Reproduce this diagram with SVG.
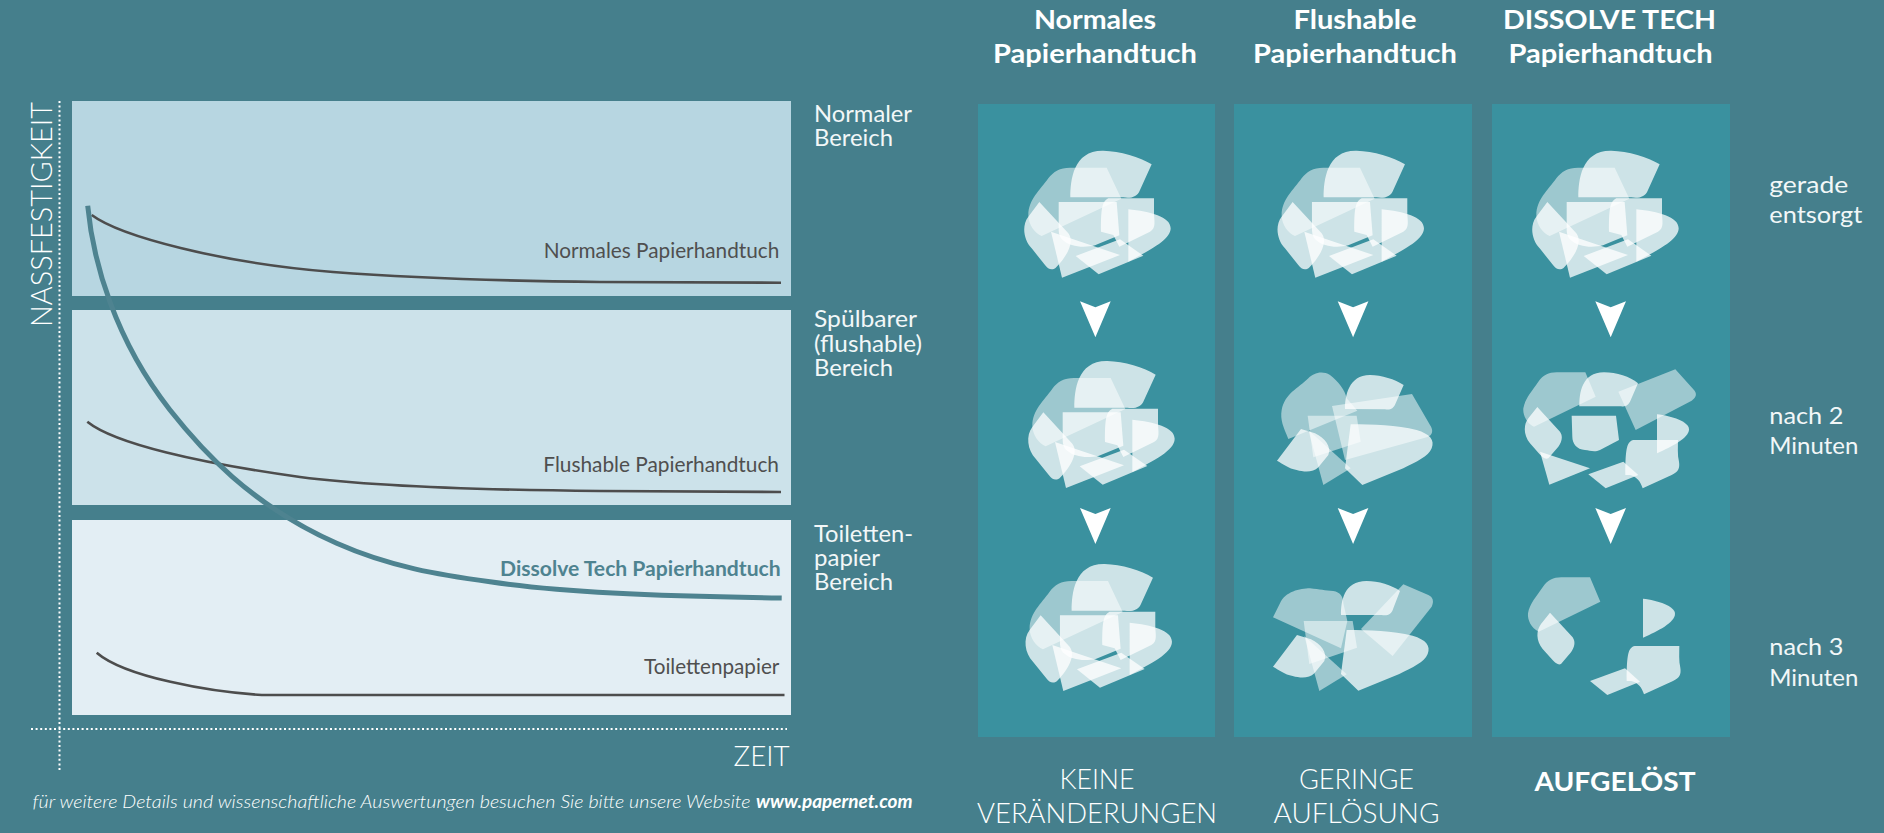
<svg xmlns="http://www.w3.org/2000/svg" xmlns:xlink="http://www.w3.org/1999/xlink" width="1884" height="833" viewBox="0 0 1884 833">
<style>
text{font-family:"Lato","Open Sans","Liberation Sans",sans-serif;fill:#fff}
.h{font-size:26px;font-weight:700;text-anchor:middle}
.r{font-size:23px;fill:#f2f7f8}
.b{font-size:27px;font-weight:300;text-anchor:middle}
.i{font-size:21px;fill:#4f4f4f}
.d{fill:#fff;fill-opacity:.5}
.l{fill:#fff;fill-opacity:.75}
.ax{fill:none;stroke:#fff;stroke-width:2;stroke-dasharray:2 2.6}
.k{fill:none;stroke:#4d4d4d;stroke-width:2.6}
.arr{fill:#fff}
</style>
<defs>
<g id="clusterA" transform="scale(.33333)">
<path class="d" d="M440,203L484,296L245,408C225,400 205,375 205,345C205,300 240,270 265,235C280,215 300,203 330,203Z"/>
<path class="l" d="M575,193L540,270C532,292 510,296 490,292L331,292C331,240 340,150 430,152C480,154 540,170 575,193Z"/>
<path class="l" d="M296,306L470,306L478,406L405,436C370,445 330,440 308,420C298,410 296,400 296,385Z"/>
<path class="l" d="M582,295L445,295C425,305 423,330 423,395L460,405L478,440L570,395C590,385 582,360 582,340Z"/>
<path class="l" d="M505,328C570,335 632,350 632,385C632,420 570,450 505,485Z"/>
<path class="l" d="M238,306L325,400C345,425 320,470 290,500C280,512 265,510 255,495L215,445C190,420 185,375 205,350Z"/>
<path class="l" d="M273,395L480,465L306,533Z"/>
<path class="l" d="M347,468L480,418L550,467L416,523Z"/>
</g>
<path id="arrow" d="M0,0L15.4,6L30.7,0L15.4,36Z"/>
</defs>
<rect width="1884" height="833" fill="#457f8c"/>
<g id="chart-bands">
<rect x="72" y="101" width="719" height="195" fill="#b7d6e1"/>
<rect x="72" y="310" width="719" height="195" fill="#cce2ea"/>
<rect x="72" y="520" width="719" height="195" fill="#e3eef4"/>
</g>
<g id="axes">
<path class="ax" d="M59.5,101V770"/>
<path class="ax" d="M31,729H787"/>
<text transform="translate(51.7,327) rotate(-90)" font-size="29" font-weight="300" fill="#fff" textLength="225" lengthAdjust="spacingAndGlyphs">NASSFESTIGKEIT</text>
<text x="733.6" y="766" font-size="28" font-weight="300" textLength="56" lengthAdjust="spacingAndGlyphs">ZEIT</text>
</g>
<g id="curves">
<path class="k" d="M91.7,215C120,236 220,263 333,272C400,277 500,281 600,282L781,282.7"/>
<path class="k" d="M87.3,421.7C115,444 200,463 300,477C370,486 480,490 600,491L781,492"/>
<path class="k" d="M96.7,652.7C125,677 210,692 261.7,695L784.5,695"/>
<path fill="none" stroke="#4e8390" stroke-width="5" d="M87.7,205.7C93,262 115,340 170,410C200,448 250,505 336.7,543.3C390,567 440,575 490,581.7C560,592 650,596 781.7,598"/>
</g>
<g id="curve-labels">
<text class="i" x="543.7" y="258" textLength="235.6" lengthAdjust="spacingAndGlyphs">Normales Papierhandtuch</text>
<text class="i" x="543.3" y="471.7" textLength="235.7" lengthAdjust="spacingAndGlyphs">Flushable Papierhandtuch</text>
<text class="i" x="500" y="575.7" style="fill:#4e8390;font-weight:700" textLength="280.7" lengthAdjust="spacingAndGlyphs">Dissolve Tech Papierhandtuch</text>
<text class="i" x="644" y="674" textLength="135.3" lengthAdjust="spacingAndGlyphs">Toilettenpapier</text>
</g>
<g id="band-labels">
<text class="r" x="814" y="122" textLength="98" lengthAdjust="spacingAndGlyphs">Normaler</text>
<text class="r" x="814" y="145.7" textLength="79" lengthAdjust="spacingAndGlyphs">Bereich</text>
<text class="r" x="814" y="326.7" textLength="103" lengthAdjust="spacingAndGlyphs">Spülbarer</text>
<text class="r" x="814" y="351.7" textLength="108" lengthAdjust="spacingAndGlyphs">(flushable)</text>
<text class="r" x="814" y="375.7" textLength="79" lengthAdjust="spacingAndGlyphs">Bereich</text>
<text class="r" x="814" y="541.7" textLength="99" lengthAdjust="spacingAndGlyphs">Toiletten-</text>
<text class="r" x="814" y="565.7" textLength="66" lengthAdjust="spacingAndGlyphs">papier</text>
<text class="r" x="814" y="590" textLength="79" lengthAdjust="spacingAndGlyphs">Bereich</text>
</g>
<g id="footer">
<text x="32.5" y="808" font-size="18" font-style="italic" font-weight="300" textLength="718" lengthAdjust="spacingAndGlyphs">für weitere Details und wissenschaftliche Auswertungen besuchen Sie bitte unsere Website</text>
<text x="756" y="808" font-size="18" font-style="italic" font-weight="700" textLength="156.5" lengthAdjust="spacingAndGlyphs">www.papernet.com</text>
</g>
<g id="column-normal">
<rect x="978" y="104" width="237" height="633" fill="#3a919f"/>
<use xlink:href="#clusterA" href="#clusterA" transform="translate(960,100)"/>
<use xlink:href="#clusterA" href="#clusterA" transform="translate(964,310.3)"/>
<use xlink:href="#clusterA" href="#clusterA" transform="translate(961.3,513.3)"/>
<text class="h" x="1095" y="29" textLength="122" lengthAdjust="spacingAndGlyphs">Normales</text>
<text class="h" x="1095" y="63" textLength="204" lengthAdjust="spacingAndGlyphs">Papierhandtuch</text>
<text class="b" x="1097" y="789" textLength="75" lengthAdjust="spacingAndGlyphs">KEINE</text>
<text class="b" x="1097" y="822.7" textLength="240" lengthAdjust="spacingAndGlyphs">VERÄNDERUNGEN</text>
</g>
<g id="column-flushable">
<rect x="1234" y="104" width="238" height="633" fill="#3a919f"/>
<use xlink:href="#clusterA" href="#clusterA" transform="translate(1213.3,100)"/>
<g transform="translate(1230,340) scale(.33333)">
<path class="d" d="M175,297C160,260 150,240 155,210C165,160 205,145 235,115C250,100 275,90 300,105C325,125 345,150 350,175L382,212Z"/>
<path class="l" d="M521,135L497,190C490,208 480,210 465,208L345,207C345,170 355,105 420,105C455,105 495,118 521,135Z"/>
<path class="d" d="M306,198L546,162L600,255C610,270 610,285 590,292L345,360Z"/>
<path class="d" d="M233,227L380,227L392,305L250,352Z"/>
<path class="l" d="M141,362L213,267L255,280C285,295 305,320 295,345L265,382C250,397 225,397 200,390C175,385 160,372 141,362Z"/>
<path class="d" d="M235,270L362,385L280,435Z"/>
<path class="l" d="M362,253C430,253 500,255 560,270C600,282 615,300 605,325C595,350 560,365 520,385L397,435L345,385Z"/>
<path class="d" d="M129,832L150,790C165,755 210,745 240,745C270,748 285,752 310,753C330,756 340,770 340,790L352,843L333,925Z"/>
<path class="l" d="M510,753L490,805C485,825 470,828 455,825L333,825C333,785 340,723 410,723C445,723 485,735 510,753Z"/>
<path class="d" d="M520,733L595,765C610,772 612,785 605,800L488,948L393,867Z"/>
<path class="d" d="M221,843L368,843L381,923L238,972Z"/>
<path class="l" d="M129,980L201,885L243,898C273,913 293,938 283,963L253,1000C238,1015 213,1015 188,1008C163,1003 148,990 129,980Z"/>
<path class="d" d="M223,888L350,1003L268,1053Z"/>
<path class="l" d="M350,870C418,870 488,872 548,887C588,899 603,917 593,942C583,967 548,982 508,1002L385,1052L333,1002Z"/>
</g>
<text class="h" x="1355" y="29" textLength="123" lengthAdjust="spacingAndGlyphs">Flushable</text>
<text class="h" x="1355" y="63" textLength="204" lengthAdjust="spacingAndGlyphs">Papierhandtuch</text>
<text class="b" x="1356.5" y="789" textLength="115" lengthAdjust="spacingAndGlyphs">GERINGE</text>
<text class="b" x="1356.5" y="822.7" textLength="166" lengthAdjust="spacingAndGlyphs">AUFLÖSUNG</text>
</g>
<g id="column-dissolve">
<rect x="1492" y="104" width="238" height="633" fill="#3a919f"/>
<use xlink:href="#clusterA" href="#clusterA" transform="translate(1468,100)"/>
<g transform="translate(1480,340) scale(.33333)">
<path class="d" d="M316,97L347,170L162,260C140,250 128,225 130,205C135,175 155,155 175,125C190,105 205,97 230,97Z"/>
<path class="l" d="M474,130L450,185C442,200 430,200 420,199L298,199C298,160 305,97 372,97C410,97 450,110 474,130Z"/>
<path class="d" d="M586,88L640,148C652,160 650,172 635,182L467,270L415,155Z"/>
<path class="l" d="M172,201L240,275C250,290 245,305 235,320L205,355C195,360 185,350 175,338L150,310C130,285 130,255 145,235Z"/>
<path class="l" d="M275,227L408,227L417,300L360,330C345,337 330,332 315,330C290,328 277,310 277,290Z"/>
<path class="l" d="M531,223C575,228 627,245 627,268C627,295 575,320 531,340Z"/>
<path class="l" d="M594,300L460,300C442,305 436,320 436,405L450,405C470,410 482,425 488,445L575,405C595,395 600,385 597,365C592,345 594,320 594,300Z"/>
<path class="l" d="M180,335L330,385L208,434Z"/>
<path class="l" d="M325,403L430,365L475,405L377,445Z"/>
<path class="d" transform="translate(14,615)" d="M316,97L347,170L162,260C140,250 128,225 130,205C135,175 155,155 175,125C190,105 205,97 230,97Z"/>
<path class="l" transform="translate(38,617)" d="M172,201L240,275C250,290 245,305 235,320L205,355C195,360 185,350 175,338L150,310C130,285 130,255 145,235Z"/>
<path class="l" transform="translate(-42,553)" d="M531,223C575,228 627,245 627,268C627,295 575,320 531,340Z"/>
<path class="l" transform="translate(4,618)" d="M594,300L460,300C442,305 436,320 436,405L450,405C470,410 482,425 488,445L575,405C595,395 600,385 597,365C592,345 594,320 594,300Z"/>
<path class="l" transform="translate(5,620)" d="M325,403L430,365L475,405L377,445Z"/>
</g>
<text class="h" x="1609.5" y="29" textLength="213" lengthAdjust="spacingAndGlyphs">DISSOLVE TECH</text>
<text class="h" x="1610.6" y="63" textLength="204" lengthAdjust="spacingAndGlyphs">Papierhandtuch</text>
<text class="b" x="1615" y="790.7" style="font-weight:700" textLength="161" lengthAdjust="spacingAndGlyphs">AUFGELÖST</text>
</g>
<g id="connectors" class="arr">
<use xlink:href="#arrow" href="#arrow" x="1080" y="301.3"/>
<use xlink:href="#arrow" href="#arrow" x="1080" y="508"/>
<use xlink:href="#arrow" href="#arrow" x="1337.7" y="301.3"/>
<use xlink:href="#arrow" href="#arrow" x="1337.7" y="508"/>
<use xlink:href="#arrow" href="#arrow" x="1595.3" y="301.3"/>
<use xlink:href="#arrow" href="#arrow" x="1595.3" y="508"/>
</g>
<g id="time-labels">
<text class="r" x="1769.3" y="192.9" textLength="79" lengthAdjust="spacingAndGlyphs">gerade</text>
<text class="r" x="1769.3" y="223.2" textLength="93" lengthAdjust="spacingAndGlyphs">entsorgt</text>
<text class="r" x="1769.3" y="424.3" textLength="74" lengthAdjust="spacingAndGlyphs">nach 2</text>
<text class="r" x="1769.3" y="454.3" textLength="89" lengthAdjust="spacingAndGlyphs">Minuten</text>
<text class="r" x="1769.3" y="655.4" textLength="74" lengthAdjust="spacingAndGlyphs">nach 3</text>
<text class="r" x="1769.3" y="685.7" textLength="89" lengthAdjust="spacingAndGlyphs">Minuten</text>
</g>
</svg>
